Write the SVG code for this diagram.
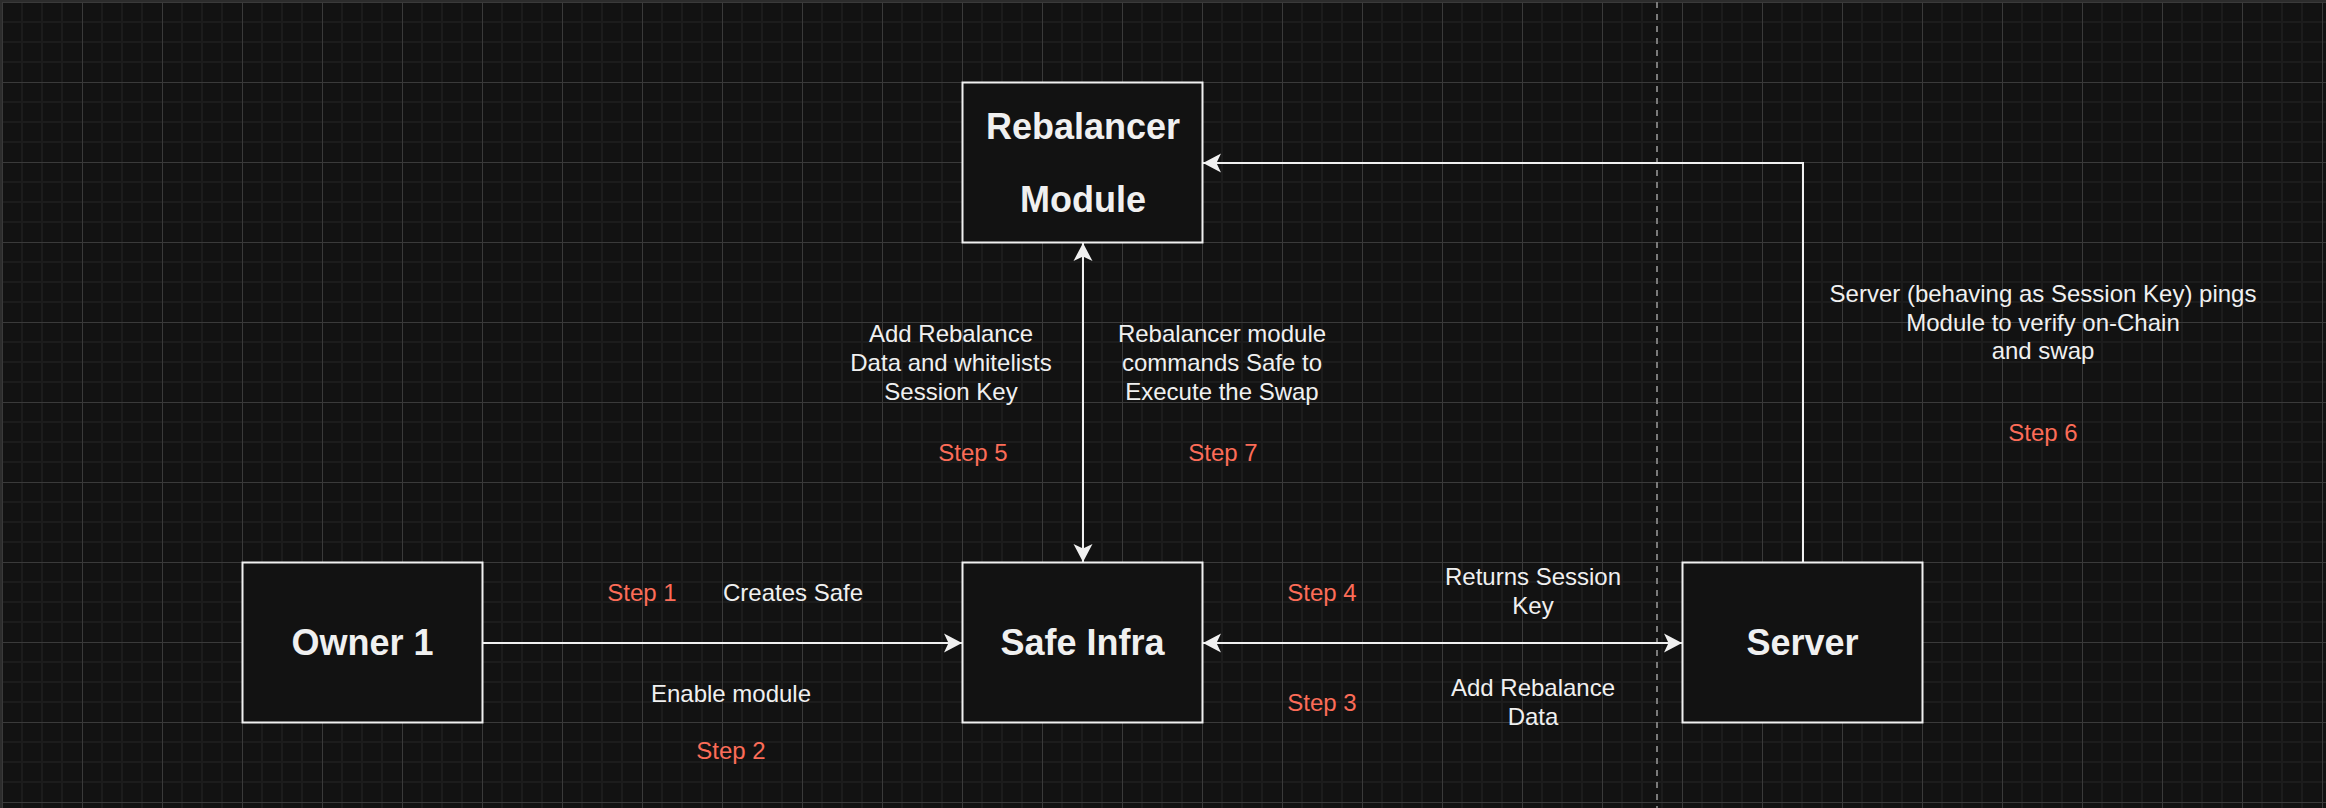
<svg xmlns="http://www.w3.org/2000/svg" width="2326" height="808" viewBox="0 0 2326 808">
  <style>
    .node { fill: #121212; stroke: #f0f0f0; stroke-width: 2; }
    .title { font-family: "Liberation Sans", Arial, sans-serif; font-size: 36px; font-weight: bold; fill: #f0f0f0; text-anchor: middle; }
    .lbl { font-family: "Liberation Sans", Arial, sans-serif; font-size: 24px; fill: #f0f0f0; text-anchor: middle; }
    .step { font-family: "Liberation Sans", Arial, sans-serif; font-size: 24px; fill: #fc6c58; text-anchor: middle; }
    .edge { fill: none; stroke: #f0f0f0; stroke-width: 2; }
  </style>
  <defs>
    <pattern id="grid" patternUnits="userSpaceOnUse" x="2" y="2" width="80" height="80">
      <rect width="80" height="80" fill="#121212"/>
      <rect x="19" y="0" width="2" height="80" fill="#1c1c1c"/>
      <rect x="39" y="0" width="2" height="80" fill="#1c1c1c"/>
      <rect x="59" y="0" width="2" height="80" fill="#1c1c1c"/>
      <rect x="0" y="19" width="80" height="2" fill="#1c1c1c"/>
      <rect x="0" y="39" width="80" height="2" fill="#1c1c1c"/>
      <rect x="0" y="59" width="80" height="2" fill="#1c1c1c"/>
      <rect x="0" y="0" width="1" height="80" fill="#3a3a3a"/>
      <rect x="0" y="0" width="80" height="1" fill="#3a3a3a"/>
    </pattern>
    <marker id="arrow" viewBox="-20 -10 20 20" refX="0" refY="0" markerWidth="20" markerHeight="20" markerUnits="userSpaceOnUse" orient="auto-start-reverse">
      <path d="M0,0 L-18,-9.5 L-13.5,0 L-18,9.5 Z" fill="#f0f0f0"/>
    </marker>
  </defs>

  <rect x="0" y="0" width="2326" height="808" fill="#121212"/>
  <rect x="2" y="2" width="2324" height="806" fill="url(#grid)"/>
  <rect x="0" y="0" width="2326" height="2" fill="#2c2c2c"/>
  <rect x="0" y="0" width="2" height="808" fill="#2c2c2c"/>
  <line x1="1657" y1="2" x2="1657" y2="808" stroke="#7a7a7a" stroke-width="2" stroke-dasharray="6 6"/>

  <g id="connectors">
    <line class="edge" x1="483" y1="643" x2="962" y2="643" marker-end="url(#arrow)"/>
    <line class="edge" x1="1203" y1="643" x2="1682" y2="643" marker-start="url(#arrow)" marker-end="url(#arrow)"/>
    <line class="edge" x1="1083" y1="243" x2="1083" y2="562" marker-start="url(#arrow)" marker-end="url(#arrow)"/>
    <path class="edge" d="M1803,562 V163 H1203" marker-end="url(#arrow)"/>
  </g>

  <g id="node-rebalancer">
    <rect class="node" x="962.5" y="82.5" width="240" height="160"/>
    <text class="title" x="1083" y="139">Rebalancer</text>
    <text class="title" x="1083" y="212">Module</text>
  </g>
  <g id="node-owner">
    <rect class="node" x="242.5" y="562.5" width="240" height="160"/>
    <text class="title" x="362.5" y="655">Owner 1</text>
  </g>
  <g id="node-safe">
    <rect class="node" x="962.5" y="562.5" width="240" height="160"/>
    <text class="title" x="1082.5" y="655">Safe Infra</text>
  </g>
  <g id="node-server">
    <rect class="node" x="1682.5" y="562.5" width="240" height="160"/>
    <text class="title" x="1802.5" y="655">Server</text>
  </g>

  <g id="labels">
    <text class="lbl" x="951" y="342">Add Rebalance</text>
    <text class="lbl" x="951" y="371">Data and whitelists</text>
    <text class="lbl" x="951" y="400">Session Key</text>
    <text class="step" x="973" y="461">Step 5</text>

    <text class="lbl" x="1222" y="342">Rebalancer module</text>
    <text class="lbl" x="1222" y="371">commands Safe to</text>
    <text class="lbl" x="1222" y="400">Execute the Swap</text>
    <text class="step" x="1223" y="461">Step 7</text>

    <text class="step" x="642" y="601">Step 1</text>
    <text class="lbl" x="793" y="601">Creates Safe</text>
    <text class="lbl" x="731" y="702">Enable module</text>
    <text class="step" x="731" y="759">Step 2</text>

    <text class="step" x="1322" y="601">Step 4</text>
    <text class="step" x="1322" y="711">Step 3</text>
    <text class="lbl" x="1533" y="585">Returns Session</text>
    <text class="lbl" x="1533" y="614">Key</text>
    <text class="lbl" x="1533" y="696">Add Rebalance</text>
    <text class="lbl" x="1533" y="725">Data</text>

    <text class="lbl" x="2043" y="302">Server (behaving as Session Key) pings</text>
    <text class="lbl" x="2043" y="331">Module to verify on-Chain</text>
    <text class="lbl" x="2043" y="359">and swap</text>
    <text class="step" x="2043" y="441">Step 6</text>
  </g>
</svg>
